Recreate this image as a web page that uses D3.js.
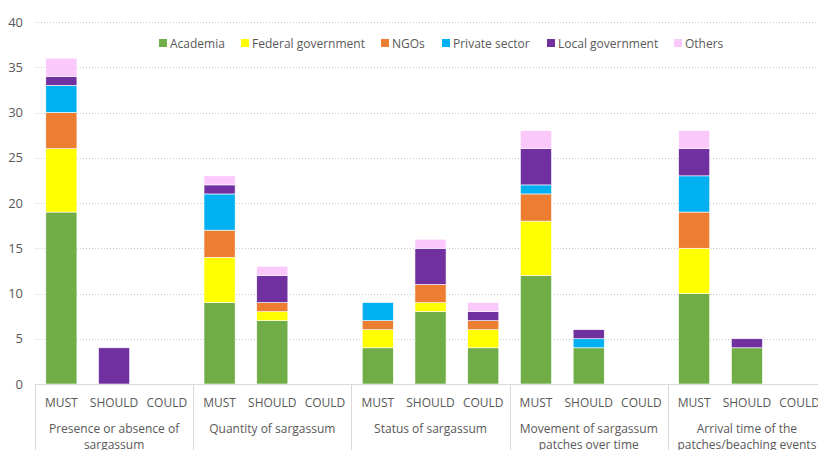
<!DOCTYPE html>
<html>
<head>
<meta charset="utf-8">
<script src="https://cdn.jsdelivr.net/npm/d3@7"></script>
<style>
  body { margin: 0; background: #fff; }
  text { font-family: "Open Sans", "Noto Sans", sans-serif; fill: #595959; }
</style>
</head>
<body>
<div id="chart"></div>
<script>
// Topics (outer categories) and priority levels (inner categories)
const topics = [
  ["Presence or absence of", "sargassum"],
  ["Quantity of sargassum"],
  ["Status of sargassum"],
  ["Movement of sargassum", "patches over time"],
  ["Arrival time of the", "patches/beaching events"]
];
const levels = ["MUST", "SHOULD", "COULD"];

// Stakeholder series, 15 values each (topic x level)
const seriesNames = ["Academia", "Federal government", "NGOs", "Private sector", "Local government", "Others"];
const academia   = [19, 0, 0,  9, 7, 0,  4, 8, 4,  12, 4, 0,  10, 4, 0];
const federal    = [ 7, 0, 0,  5, 1, 0,  2, 1, 2,   6, 0, 0,   5, 0, 0];
const ngos       = [ 4, 0, 0,  3, 1, 0,  1, 2, 1,   3, 0, 0,   4, 0, 0];
const privateSec = [ 3, 0, 0,  4, 0, 0,  2, 0, 0,   1, 1, 0,   4, 0, 0];
const localGov   = [ 1, 4, 0,  1, 3, 0,  0, 4, 1,   4, 1, 0,   3, 1, 0];
const others     = [ 2, 0, 0,  1, 1, 0,  0, 1, 1,   2, 0, 0,   2, 0, 0];
const colors = ["#70ad47", "#ffff00", "#ed7d31", "#00b0f0", "#7030a0", "#fbc8fb"];
const yTicks = [0, 5, 10, 15, 20, 25, 30, 35, 40];

const width = 818, height = 450;
const margin = { top: 22, right: -8, bottom: 66, left: 35 };

const svg = d3.select("#chart").append("svg")
  .attr("width", width).attr("height", height);

// Build table rows for the stack
const rows = [];
topics.forEach((t, ti) => {
  levels.forEach((l, li) => {
    const i = ti * levels.length + li;
    rows.push({
      key: ti + "|" + l, topic: ti, level: l,
      "Academia": academia[i], "Federal government": federal[i], "NGOs": ngos[i],
      "Private sector": privateSec[i], "Local government": localGov[i], "Others": others[i]
    });
  });
});

const x0 = d3.scaleBand()
  .domain(d3.range(topics.length))
  .range([margin.left, width - margin.right])
  .paddingInner(0).paddingOuter(0);

const x1 = d3.scaleBand()
  .domain(levels)
  .range([0, x0.bandwidth()])
  .paddingInner(0.41)
  .paddingOuter(0.205);

const y = d3.scaleLinear()
  .domain([0, 40])
  .range([height - margin.bottom, margin.top]);

// Gridlines
svg.append("g")
  .selectAll("line")
  .data(yTicks.filter(d => d > 0))
  .join("line")
  .attr("x1", margin.left).attr("x2", width)
  .attr("y1", d => Math.round(y(d)) + 0.5).attr("y2", d => Math.round(y(d)) + 0.5)
  .attr("stroke", "#c8c8c8")
  .attr("stroke-dasharray", "1,2");

// Y tick labels
svg.append("g")
  .selectAll("text")
  .data(yTicks)
  .join("text")
  .attr("x", 23)
  .attr("y", d => y(d))
  .attr("dy", "0.35em")
  .attr("text-anchor", "end")
  .style("font-size", "13px")
  .text(d => d);

// Stacked bars
const stack = d3.stack().keys(seriesNames)(rows);

svg.append("g")
  .selectAll("g")
  .data(stack)
  .join("g")
  .attr("fill", (d, i) => colors[i])
  .selectAll("rect")
  .data(d => d.filter(s => s[1] > s[0]))
  .join("rect")
  .attr("x", d => x0(d.data.topic) + x1(d.data.level))
  .attr("width", x1.bandwidth())
  .attr("y", d => y(d[1]))
  .attr("height", d => y(d[0]) - y(d[1]))
  .attr("stroke", "#fff")
  .attr("stroke-width", 0.6);

// Category axis line and separators
const axisY = Math.round(y(0)) + 0.5;
svg.append("line")
  .attr("x1", margin.left).attr("x2", width)
  .attr("y1", axisY).attr("y2", axisY)
  .attr("stroke", "#d9d9d9");

svg.append("g")
  .selectAll("line")
  .data(d3.range(topics.length))
  .join("line")
  .attr("x1", d => Math.round(x0(d)) + 0.5).attr("x2", d => Math.round(x0(d)) + 0.5)
  .attr("y1", axisY).attr("y2", height)
  .attr("stroke", "#d9d9d9");

// Level labels
const levelG = svg.append("g");
rows.forEach(r => {
  levelG.append("text")
    .attr("x", x0(r.topic) + x1(r.level) + x1.bandwidth() / 2)
    .attr("y", 407)
    .attr("text-anchor", "middle")
    .style("font-size", "12px")
    .text(r.level);
});

// Topic labels
svg.append("g")
  .selectAll("text")
  .data(topics)
  .join("text")
  .attr("x", (d, i) => x0(i) + x0.bandwidth() / 2)
  .attr("y", 433)
  .attr("text-anchor", "middle")
  .style("font-size", "12px")
  .each(function (d) {
    const t = d3.select(this);
    d.forEach((line, k) => {
      t.append("tspan")
        .attr("x", t.attr("x"))
        .attr("dy", k === 0 ? 0 : 16)
        .text(line);
    });
  });

// Legend
const legendX = [159, 241, 381, 442, 547, 674];
const legend = svg.append("g")
  .selectAll("g")
  .data(seriesNames)
  .join("g")
  .attr("transform", (d, i) => `translate(${legendX[i]},44)`);
legend.append("rect")
  .attr("x", 0).attr("y", -5)
  .attr("width", 8).attr("height", 8)
  .attr("fill", (d, i) => colors[i]);
legend.append("text")
  .attr("x", 11).attr("y", 0)
  .attr("dy", "0.35em")
  .style("font-size", "12px")
  .text(d => d);
</script>
</body>
</html>
